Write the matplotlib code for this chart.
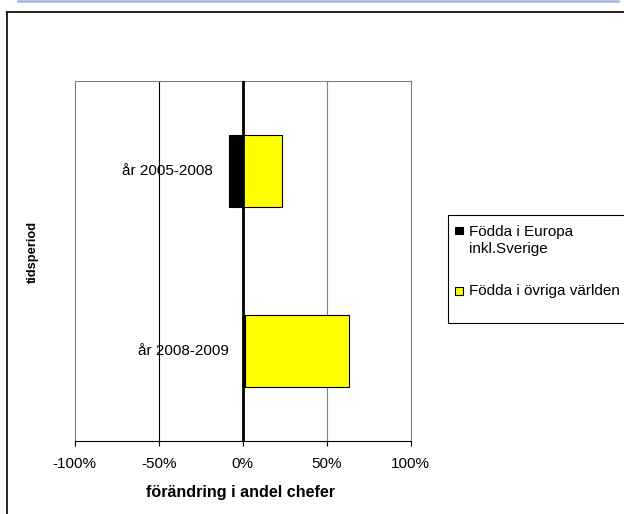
import matplotlib
matplotlib.use("Agg")
import matplotlib.pyplot as plt
import numpy as np
from matplotlib.lines import Line2D
from matplotlib.patches import Rectangle

plt.rcParams['font.family'] = ['Liberation Sans', 'DejaVu Sans']

categories = ["år 2005-2008", "år 2008-2009"]
series_names = ["Födda i Europa\ninkl.Sverige", "Födda i övriga världen"]
europa = [-8.3, 1.6]
ovriga = [23.6, 61.6]
xticks = [-100, -50, 0, 50, 100]
xticklabels = ["-100%", "-50%", "0%", "50%", "100%"]
colors = ["#000000", "#ffff00"]

W, H = 624, 514
fig = plt.figure(figsize=(W / 100, H / 100), dpi=100)

def fx(px):
    return px / W

def fy(py):
    return 1 - py / H

ax = fig.add_axes([fx(74.7), fy(440.7), fx(410.7) - fx(74.7), fy(81) - fy(440.7)])

ypos = np.array([1.5, 0.5])
europa_a = np.array(europa)
ovriga_a = np.array(ovriga)
left_ov = np.where((europa_a > 0) & (ovriga_a > 0), europa_a, 0)

ax.barh(ypos, europa_a, height=0.4, color=colors[0], edgecolor="black", linewidth=0.8, zorder=3)
ax.barh(ypos, ovriga_a, left=left_ov, height=0.4, color=colors[1], edgecolor="black", linewidth=0.8, zorder=3)

ax.set_xlim(-100, 100)
ax.set_ylim(0, 2)
ax.set_xticks(xticks)
ax.set_xticklabels(xticklabels, fontsize=11)
ax.set_yticks([])
ax.tick_params(axis='x', direction='out', length=3.8, width=0.8, color='black', pad=8)

# vertical gridlines
ax.axvline(-50, color='black', lw=0.8, zorder=1)
ax.axvline(50, color='#808080', lw=0.8, zorder=1)
# zero axis line
ax.axvline(0, color='black', lw=2.0, zorder=4)

for s in ['top', 'left', 'right']:
    ax.spines[s].set_color('#808080')
    ax.spines[s].set_linewidth(0.8)
ax.spines['bottom'].set_color('black')
ax.spines['bottom'].set_linewidth(0.8)

# category labels
label_x = [-17.8, -8.3]
for y, lab, lx in zip(ypos, categories, label_x):
    ax.text(lx, y, lab, ha='right', va='center', fontsize=11, zorder=5)

# axis titles
fig.text(fx(241), fy(492), "förändring i andel chefer", ha='center', va='center',
         fontsize=11.6, fontweight='bold')
fig.text(fx(33), fy(251.7), "tidsperiod", ha='center', va='center', rotation=90,
         fontsize=9.3, fontweight='bold')

# legend box drawn manually
fig.add_artist(Rectangle((fx(448), fy(322.7)), fx(640) - fx(448), fy(215) - fy(322.7),
                         transform=fig.transFigure, facecolor='white', edgecolor='black', lw=0.8))
mk = 7.5
fig.add_artist(Rectangle((fx(455), fy(234.5)), fx(mk), mk / H, transform=fig.transFigure,
                         facecolor=colors[0], edgecolor='black', lw=0.8))
fig.add_artist(Rectangle((fx(455), fy(294.5)), fx(mk), mk / H, transform=fig.transFigure,
                         facecolor=colors[1], edgecolor='black', lw=0.8))
fig.text(fx(469), fy(240.5), series_names[0], ha='left', va='center', fontsize=11,
         linespacing=1.35)
fig.text(fx(469), fy(290.7), series_names[1], ha='left', va='center', fontsize=11)

# chart frame lines
fig.add_artist(Line2D([fx(18), fx(618)], [fy(0.8), fy(0.8)], color='#a3b1df', lw=1.8))
fig.add_artist(Line2D([fx(7), fx(640)], [fy(11.5), fy(11.5)], color='black', lw=1.2))
fig.add_artist(Line2D([fx(7), fx(7)], [fy(11.5), fy(520)], color='black', lw=1.2))

fig.savefig("out.png", dpi=100)
